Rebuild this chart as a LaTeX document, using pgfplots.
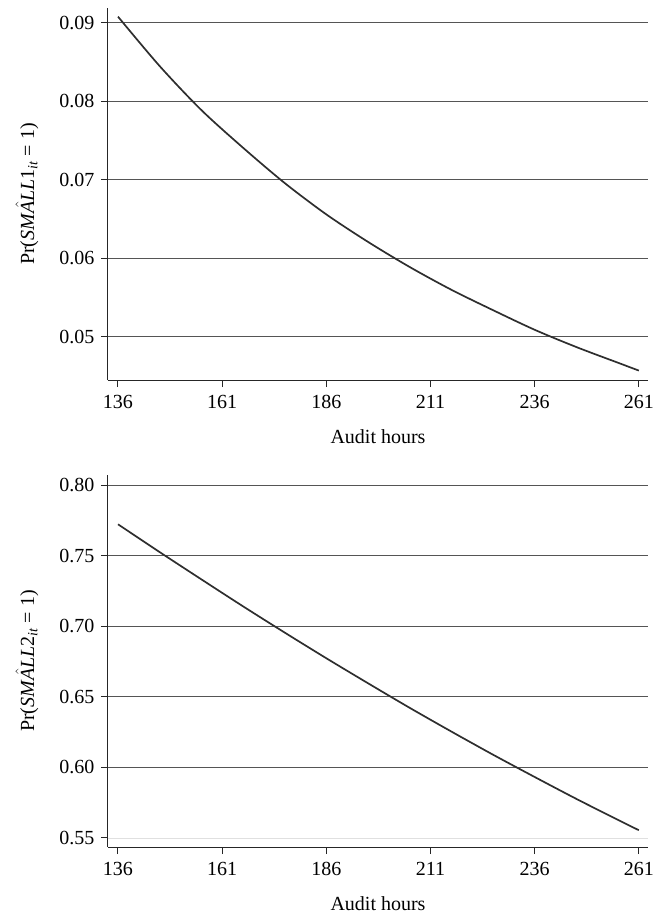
\documentclass[border=0pt]{standalone}
\usepackage{amsmath}
\usepackage{pgfplots}
\pgfplotsset{compat=1.18}
\usepackage{fontspec}
\setmainfont{Liberation Serif}
\definecolor{curve}{HTML}{2E2E2E}
\definecolor{gridc}{HTML}{555555}
\pgfplotsset{
  panel/.style={
    scale only axis,
    width=540bp, height=372bp,
    axis lines*=left,
    axis line style={black!85, line width=1bp},
    tick align=outside,
    major tick length=7bp,
    tick style={black!85, line width=1bp},
    xmin=133.6, xmax=263.2,
    xtick={136,161,186,211,236,261},
    ymajorgrids,
    grid style={gridc, line width=0.9bp},
    tick label style={font=\fontsize{20bp}{24bp}\selectfont},
    label style={font=\fontsize{20bp}{24bp}\selectfont},
    /pgf/number format/assume math mode=true,
    xticklabel style={yshift=-5bp},
    yticklabel style={xshift=-3bp, /pgf/number format/.cd, fixed, fixed zerofill, precision=2},
    scaled y ticks=false,
    xlabel={Audit hours},
    xlabel style={at={(axis description cs:0.5,0)}, anchor=center, yshift=-57bp},
    ylabel style={at={([xshift=-81bp]axis description cs:0,0.5)}, anchor=center},
    clip=false,
  }
}
\begin{document}
\begin{tikzpicture}
\path[use as bounding box] (-108bp,8bp) rectangle (547bp,-909bp);
\begin{axis}[panel, at={(0,0)}, anchor=north west,
  ymin=0.0445, ymax=0.0919,
  ytick={0.05,0.06,0.07,0.08,0.09},
  ylabel={Pr($\hat{\text{\textit{SMALL}1}}_{\textit{it}}$ = 1)}]
\addplot[curve, line width=1.7bp, smooth] table {
136 0.0908
146 0.0845
156 0.0789
166 0.0741
176 0.0696
186 0.0656
196 0.0621
206 0.0589
216 0.0560
226 0.0534
236 0.0509
246 0.0487
256 0.0467
261 0.0457
};
\end{axis}
\begin{axis}[panel, at={(0,-467bp)}, anchor=north west,
  ymin=0.5436, ymax=0.8071,
  ytick={0.60,0.65,0.70,0.75,0.80},
  extra y ticks={0.55},
  extra y tick style={grid style={black!12, line width=0.9bp}},
  ylabel={Pr($\hat{\text{\textit{SMALL}2}}_{\textit{it}}$ = 1)}]
\addplot[curve, line width=1.7bp, smooth] table {
136 0.7722
146 0.7525
156 0.7332
166 0.7141
176 0.6955
186 0.6773
196 0.6596
206 0.6422
216 0.6254
226 0.6090
236 0.5932
246 0.5777
256 0.5628
261 0.5555
};
\end{axis}
\end{tikzpicture}
\end{document}
